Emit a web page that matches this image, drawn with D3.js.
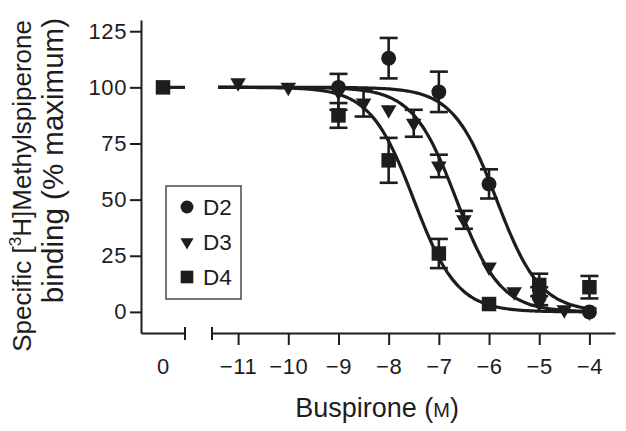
<!DOCTYPE html>
<html>
<head>
<meta charset="utf-8">
<script src="https://cdn.jsdelivr.net/npm/d3@7"></script>
<style>
  html, body { margin: 0; padding: 0; background: #fff; }
  svg { display: block; font-family: "Liberation Sans", Arial, sans-serif; }
</style>
</head>
<body>
<svg id="chart" width="626" height="431"></svg>
<script>
// ---------- data ----------
const xTicks = [-11, -10, -9, -8, -7, -6, -5, -4];
const yTicks = [0, 25, 50, 75, 100, 125];
const seriesNames = ["D2", "D3", "D4"];

// D2 (circles)
const d2X   = [-9, -8, -7, -6, -5, -4];
const d2Y   = [100, 113, 98, 57, 7, 0];
const d2Err = [0, 9, 9, 6.5, 4, 0];

// D3 (down triangles)
const d3X   = [-11, -10, -9, -8.5, -8, -7.5, -7, -6.5, -6, -5.5, -5, -4.5, -4];
const d3Y   = [102, 100, 98, 93, 90, 84, 65, 41, 20, 9, 4, 1, 0];
const d3Err = [0, 0, 8, 6, 0, 6, 5, 4, 0, 0, 0, 0, 0];

// D4 (squares)
const d4X   = [-9, -8, -7, -6, -5, -4];
const d4Y   = [87.5, 67.5, 26, 3.5, 12, 11];
const d4Err = [5.5, 10, 6.5, 0, 5, 5];

// control (no drug, plotted at "0")
const controlX = [0];
const controlY = [100];

// fitted sigmoid parameters (log IC50, Hill slope) per series
const fitLogIC50 = [-5.85, -6.65, -7.5];
const fitHill    = [1.0, 1.0, 1.0];
const fitRange   = [-11.4, -4];

// ---------- chart ----------
const ink = "#1e1c1d";
const svg = d3.select("#chart");

const x = d3.scaleLinear().domain([-11.52, -3.49]).range([212, 615]);
const x0 = d3.scaleLinear().domain([-0.5, 0.5]).range([141, 185]);
const y = d3.scaleLinear().domain([-9.4, 130]).range([333, 20]);

// y axis
const yAx = svg.append("g").attr("transform", "translate(141,0)")
  .call(d3.axisLeft(y).tickValues(yTicks).tickSize(11).tickSizeOuter(0).tickPadding(3));
// x axis (main segment)
const xAx = svg.append("g").attr("transform", "translate(0,333)")
  .call(d3.axisBottom(x).tickValues(xTicks).tickSize(12).tickSizeOuter(0).tickPadding(13)
    .tickFormat(d => d3.format("d")(d).replace("-", "\u2013")));
// x axis (control segment)
const x0Ax = svg.append("g").attr("transform", "translate(0,333)")
  .call(d3.axisBottom(x0).tickValues(controlX).tickSize(0).tickSizeOuter(0).tickPadding(25)
    .tickFormat(d3.format("d")));

[yAx, xAx, x0Ax].forEach(g => {
  g.selectAll("path.domain").attr("stroke", ink).attr("stroke-width", 2);
  g.selectAll(".tick line").attr("stroke", ink).attr("stroke-width", 2);
  g.selectAll(".tick text").attr("fill", ink).attr("font-size", 22)
    .attr("letter-spacing", 0.6)
    .attr("font-family", "'Liberation Sans', Arial, sans-serif");
});

// break markers
const brk = svg.append("g").attr("stroke", ink).attr("stroke-width", 2);
brk.append("line").attr("x1", x0.range()[1]).attr("x2", x0.range()[1]).attr("y1", 327).attr("y2", 340);
brk.append("line").attr("x1", x.range()[0]).attr("x2", x.range()[0]).attr("y1", 327).attr("y2", 340);

// axis titles
const yTitle = svg.append("g").attr("fill", ink).attr("font-size", 26);
const t1 = yTitle.append("text").attr("text-anchor", "end")
  .attr("transform", "translate(31,20) rotate(-90)");
t1.append("tspan").text("Specific [");
t1.append("tspan").attr("font-size", 17).attr("dy", -10).text("3");
t1.append("tspan").attr("dy", 10).text("H]Methylspiperone");
yTitle.append("text").attr("text-anchor", "end")
  .attr("transform", "translate(63,18) rotate(-90)")
  .attr("font-size", 29.5)
  .text("binding (% maximum)");

const xTitle = svg.append("text").attr("fill", ink).attr("font-size", 27)
  .attr("text-anchor", "middle").attr("x", 377).attr("y", 417);
xTitle.append("tspan").text("Buspirone (");
xTitle.append("tspan").attr("font-size", 20).text("M");
xTitle.append("tspan").text(")");

// control segment line
svg.append("line")
  .attr("x1", x0(controlX[0])).attr("x2", x0.range()[1])
  .attr("y1", y(controlY[0])).attr("y2", y(controlY[0]))
  .attr("stroke", ink).attr("stroke-width", 3.2);

// fitted curves
const curveXs = d3.range(fitRange[0], fitRange[1] + 1e-9, 0.05);
const line = d3.line().x(d => x(d[0])).y(d => y(d[1])).curve(d3.curveBasis);
fitLogIC50.forEach((ic, i) => {
  const pts = curveXs.map(v => [v, 100 / (1 + Math.pow(10, (v - ic) * fitHill[i]))]);
  svg.append("path").attr("d", line(pts)).attr("fill", "none")
    .attr("stroke", ink).attr("stroke-width", 3.2);
});

// data assembly
const series = [
  { name: "D2", xs: d2X, ys: d2Y, es: d2Err, sym: d3.symbolCircle, size: 175, rot: 0 },
  { name: "D3", xs: d3X, ys: d3Y, es: d3Err, sym: d3.symbolTriangle, size: 105, rot: 180 },
  { name: "D4", xs: d4X, ys: d4Y, es: d4Err, sym: d3.symbolSquare, size: 210, rot: 0 }
];

// error bars
const eb = svg.append("g").attr("stroke", ink).attr("stroke-width", 2.6);
series.forEach(s => {
  s.xs.forEach((xv, i) => {
    const e = s.es[i];
    if (!e) return;
    const cx = x(xv), top = y(s.ys[i] + e), bot = y(s.ys[i] - e);
    eb.append("line").attr("x1", cx).attr("x2", cx).attr("y1", top).attr("y2", bot);
    eb.append("line").attr("x1", cx - 9).attr("x2", cx + 9).attr("y1", top).attr("y2", top);
    eb.append("line").attr("x1", cx - 9).attr("x2", cx + 9).attr("y1", bot).attr("y2", bot);
  });
});

// markers
series.forEach(s => {
  const path = d3.symbol().type(s.sym).size(s.size)();
  svg.append("g").selectAll("path").data(s.xs.map((xv, i) => [xv, s.ys[i]])).join("path")
    .attr("d", path).attr("fill", ink)
    .attr("transform", d => `translate(${x(d[0])},${y(d[1])}) rotate(${s.rot})`);
});
// control square
svg.append("path").attr("d", d3.symbol().type(d3.symbolSquare).size(210)())
  .attr("fill", ink)
  .attr("transform", `translate(${x0(controlX[0])},${y(controlY[0])})`);

// legend
const lg = svg.append("g");
lg.append("rect").attr("x", 166).attr("y", 186).attr("width", 75).attr("height", 113)
  .attr("fill", "#fff").attr("stroke", "#4a4a4a").attr("stroke-width", 1.5);
const legendSyms = [
  { sym: d3.symbolCircle, size: 130, rot: 0 },
  { sym: d3.symbolTriangle, size: 75, rot: 180 },
  { sym: d3.symbolSquare, size: 160, rot: 0 }
];
seriesNames.forEach((n, i) => {
  const cy = 207 + i * 35;
  lg.append("path").attr("d", d3.symbol().type(legendSyms[i].sym).size(legendSyms[i].size)())
    .attr("fill", ink).attr("transform", `translate(187,${cy}) rotate(${legendSyms[i].rot})`);
  lg.append("text").attr("x", 203).attr("y", cy + 8).attr("font-size", 22.5)
    .attr("fill", ink).text(n);
});
</script>
</body>
</html>
